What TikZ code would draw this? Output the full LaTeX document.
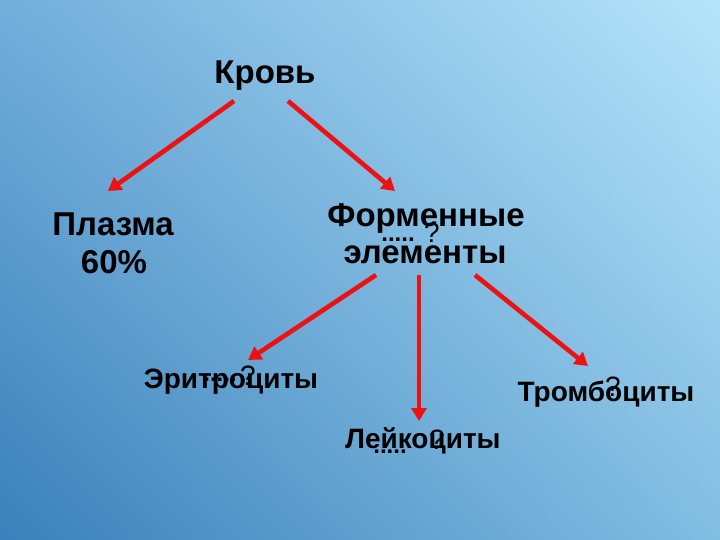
\documentclass[tikz,border=0pt]{standalone}
\usepackage{fontspec}
\setmainfont{Liberation Sans}
\usetikzlibrary{arrows.meta,shadings}
\definecolor{bgTL}{HTML}{72AEDA}
\definecolor{bgTR}{HTML}{B6E4FA}
\definecolor{bgBL}{HTML}{3A80BA}
\definecolor{bgBR}{HTML}{82BDE2}
\definecolor{arr}{HTML}{EE1111}
\tikzset{
  lbl/.style={font=\bfseries\fontsize{33}{36}\selectfont, inner sep=0pt, text=black},
  lbls/.style={font=\bfseries\fontsize{28}{30}\selectfont, inner sep=0pt, text=black},
  ovl/.style={font=\fontsize{28}{30}\selectfont, inner sep=0pt, text=black},
  dots/.style={font=\bfseries\fontsize{24}{26}\selectfont, inner sep=0pt, text=black},
  arrow/.style={draw=arr, line width=4.6pt, -{Triangle[length=13pt,width=15pt]}}
}
\begin{document}
\begin{tikzpicture}[x=1pt,y=-1pt]
\useasboundingbox (0,0) rectangle (720,540);
\shade[upper left=bgTL, upper right=bgTR, lower left=bgBL, lower right=bgBR] (0,0) rectangle (720,540);
% nodes
\node[lbl] (krov) at (265,76) {Кровь};
\node[lbl] (plazma) at (113,224) {Плазма};
\node[lbl] (pct) at (114,262) {60\%};
\node[lbl] (form1) at (426,218) {Форменные};
\node[lbl] (form2) at (425,255) {элементы};
\node[lbls] (eritr) at (231,382) {Эритроциты};
\node[lbls] (leik) at (423,441) {Лейкоциты};
\node[lbls] (tromb) at (606,394) {Тромбоциты};
% overlays
\node[ovl] (q1) at (432,233) {?};
\node[dots] (d1) at (398,240) {.....};
\node[ovl] (q2) at (248,376) {?};
\node[dots] (d2) at (220,380) {.....};
\node[ovl] (q3) at (437,440) {?};
\node[dots] (d3) at (390,452) {.....};
\node[ovl] (q4) at (613,387) {?};
% arrow anchors
\coordinate (a1s) at (234,101); \coordinate (a1e) at (108,191);
\coordinate (a2s) at (288,101); \coordinate (a2e) at (395,191);
\coordinate (a3s) at (376,275); \coordinate (a3e) at (248,360);
\coordinate (a4s) at (419,275); \coordinate (a4e) at (419,421);
\coordinate (a5s) at (475,275); \coordinate (a5e) at (588,366);
\draw[arrow] (a1s) -- (a1e);
\draw[arrow] (a2s) -- (a2e);
\draw[arrow] (a3s) -- (a3e);
\draw[arrow] (a4s) -- (a4e);
\draw[arrow] (a5s) -- (a5e);
\end{tikzpicture}
\end{document}
